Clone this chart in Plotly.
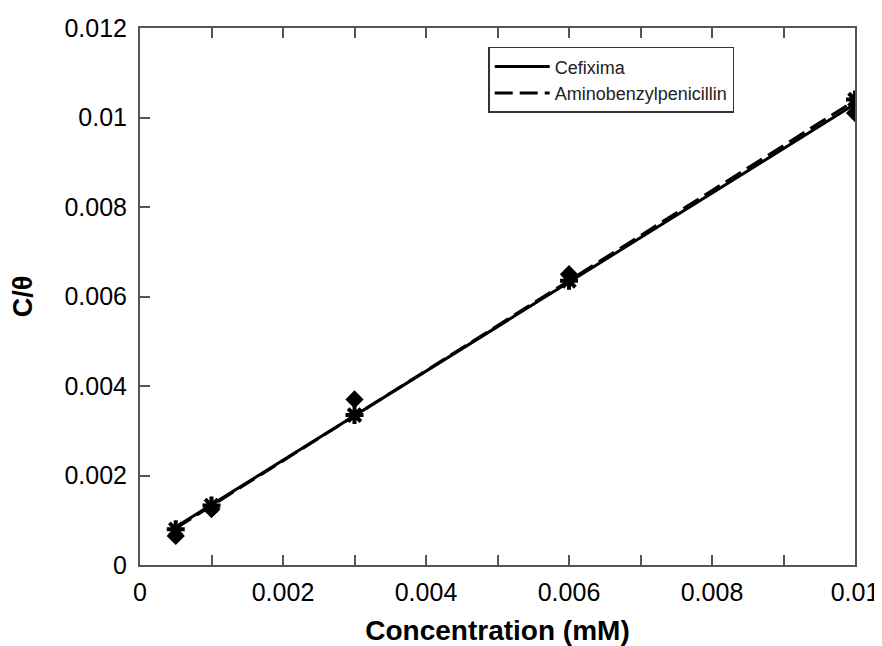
import plotly.graph_objects as go

concentration = [0.0005, 0.001, 0.003, 0.006, 0.01]
cefixima_y = [0.00065, 0.00125, 0.0037, 0.0065, 0.0101]
amino_y = [0.0008, 0.00133, 0.00335, 0.00635, 0.0104]

fit_x = [0.0005, 0.01]
cefixima_fit = [0.00085, 0.01030]
amino_fit = [0.00082, 0.01038]

x_tickvals = [0, 0.002, 0.004, 0.006, 0.008, 0.01]
x_ticktext = ["0", "0.002", "0.004", "0.006", "0.008", "0.01"]
y_tickvals = [0, 0.002, 0.004, 0.006, 0.008, 0.01, 0.012]
y_ticktext = ["0", "0.002", "0.004", "0.006", "0.008", "0.01", "0.012"]

fig = go.Figure()

fig.add_trace(go.Scatter(
    x=concentration, y=cefixima_y, mode="markers", showlegend=False,
    marker=dict(symbol="diamond", size=14, color="black", line=dict(width=0))))
fig.add_trace(go.Scatter(
    x=concentration, y=amino_y, mode="markers", showlegend=False,
    marker=dict(symbol="asterisk-open", size=15, color="black",
                line=dict(width=4, color="black"))))
fig.add_trace(go.Scatter(
    x=fit_x, y=cefixima_fit, mode="lines", name="Cefixima",
    line=dict(color="black", width=3)))
fig.add_trace(go.Scatter(
    x=fit_x, y=amino_fit, mode="lines", name="Aminobenzylpenicillin",
    line=dict(color="black", width=3, dash="18px,7px")))

font_family = "Liberation Sans, Arial, sans-serif"

fig.update_layout(
    width=874, height=638,
    margin=dict(l=132, r=27, t=20, b=81),
    paper_bgcolor="white", plot_bgcolor="white",
    font=dict(family=font_family, color="black"),
    xaxis=dict(
        range=[0, 0.01], tickvals=x_tickvals, ticktext=x_ticktext,
        showgrid=False, zeroline=False, automargin=False,
        showline=True, linecolor="#555", linewidth=2, mirror="ticks",
        ticks="inside", ticklen=10, tickwidth=1.5, tickcolor="#555",
        ticklabelstandoff=4,
        minor=dict(dtick=0.001, tick0=0, ticks="inside", ticklen=10, tickwidth=1.5, tickcolor="#555"),
        tickfont=dict(size=25, family=font_family),
        title=dict(text="<b>Concentration (mM)</b>", font=dict(size=28, family=font_family), standoff=20),
    ),
    yaxis=dict(
        range=[0, 0.012], tickvals=y_tickvals, ticktext=y_ticktext,
        showgrid=False, zeroline=False, automargin=False,
        showline=True, linecolor="#555", linewidth=2, mirror=True,
        ticks="inside", ticklen=10, tickwidth=1.5, tickcolor="#555",
        ticklabelstandoff=6,
        tickfont=dict(size=25, family=font_family),
        title=dict(text="<b>C/θ</b>", font=dict(size=27, family=font_family), standoff=30),
    ),
    legend=dict(
        x=0.487, y=0.965, xanchor="left", yanchor="top",
        bgcolor="white", bordercolor="#333", borderwidth=1.5,
        font=dict(size=18, family=font_family, color="#222"),
        itemwidth=55, tracegroupgap=0,
    ),
)

fig.write_html("out.html")
